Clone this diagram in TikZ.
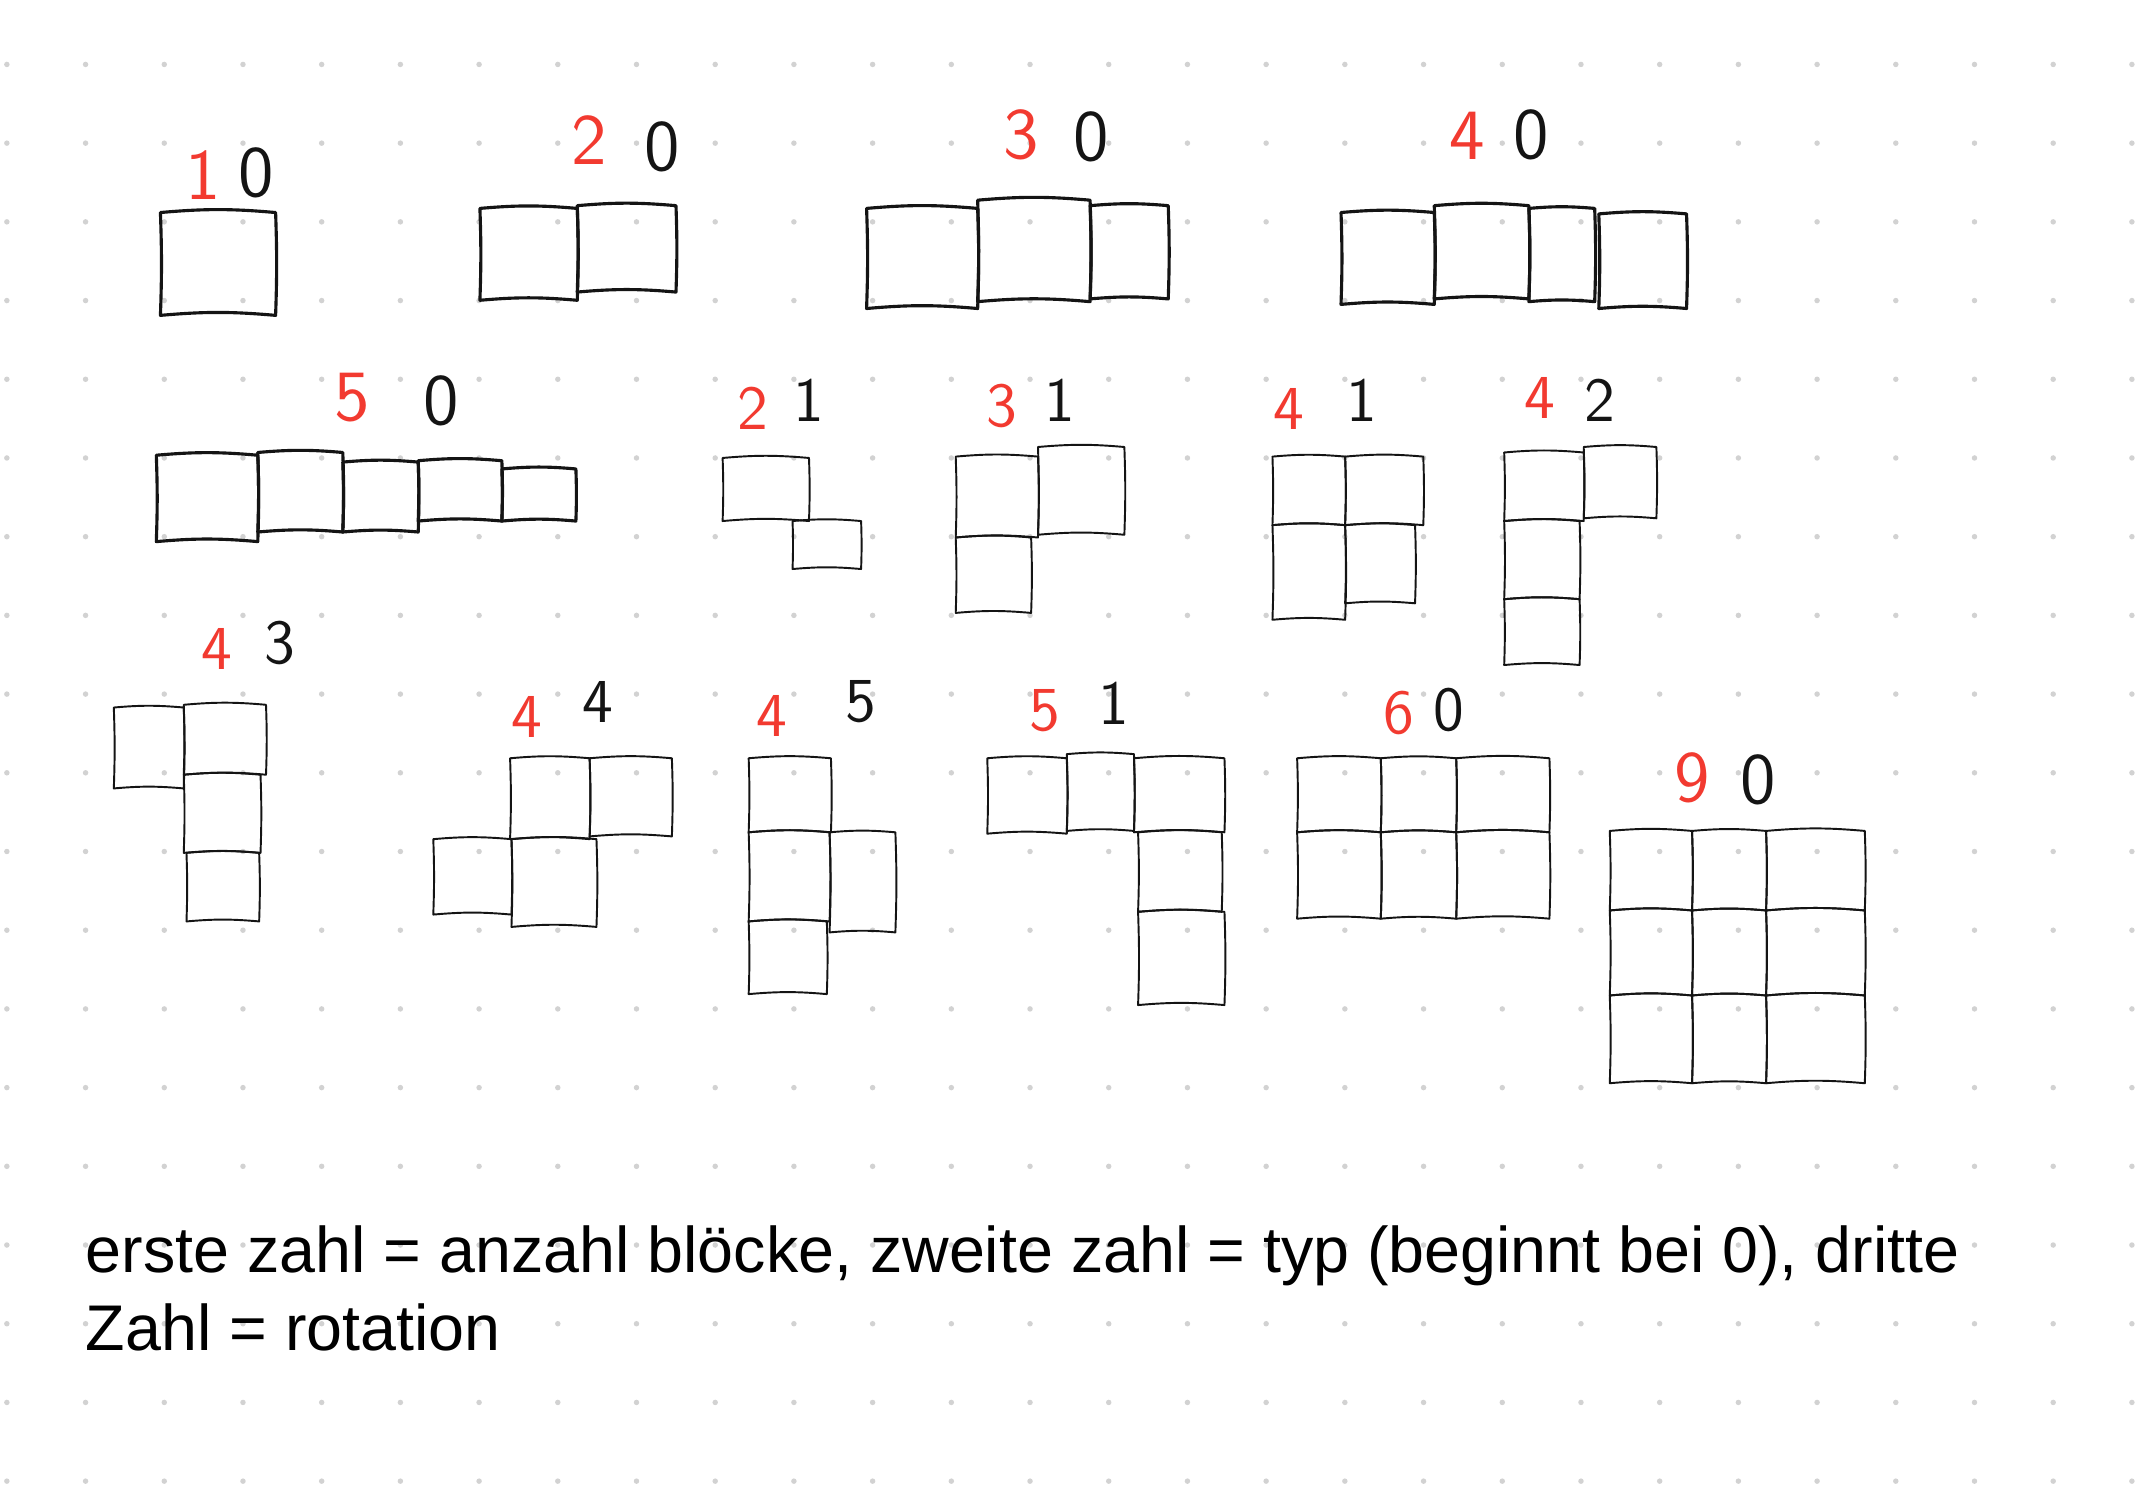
\documentclass[tikz,border=0pt]{standalone}
\usepackage{fontspec}
\setmainfont{Liberation Sans}
\definecolor{pen}{HTML}{141414}
\definecolor{redpen}{HTML}{F23A30}
\definecolor{dotgray}{HTML}{D2D2D2}
% one hand-drawn block
\newcommand\sqcell[5]{%
  \draw[#1] (#2,#3) to[bend left=5] (#4,#3) to[bend left=2] (#4,#5)
    to[bend right=5] (#2,#5) to[bend right=2] cycle;}

\begin{document}
\begin{tikzpicture}[
  x=0.1mm,y=-0.1mm,
  dotg/.style={fill=dotgray,draw=none},
  blk/.style={draw=pen,line width=.65pt,line join=round},
  thinblk/.style={blk,line width=.4pt},
  nr/.style={text=redpen,font=\sffamily\fontsize{15}{15}\selectfont,inner sep=0pt},
  ty/.style={text=pen,font=\sffamily\fontsize{15}{15}\selectfont,inner sep=0pt},
  nrs/.style={nr,font=\sffamily\fontsize{13}{13}\selectfont},
  tys/.style={ty,font=\sffamily\fontsize{13}{13}\selectfont},
  note/.style={anchor=base west,inner sep=0pt,text=black,
    font=\fontsize{13.4}{16.2}\selectfont}
]
\fill[white] (0,0) rectangle (1568,1090);
\useasboundingbox (0,0) rectangle (1568,1090);

% dotted paper
\foreach \i in {0,...,27}
  \foreach \j in {0,...,18}
    \fill[dotg] ({5+57.4*\i},{47+57.4*\j}) circle (0.2mm);

% first row: straight pieces
\node[nr] (a1) at (148,128) {1};
\node[ty] (a2) at (187,126) {0};
\sqcell{blk}{117}{155}{201}{230}

\node[nr] (b1) at (430,102) {2};
\node[ty] (b2) at (483,107) {0};
\foreach \xa/\ya/\xb/\yb in {350/152/421/219,421/150/493/213}
  {\sqcell{blk}{\xa}{\ya}{\xb}{\yb}}

\node[nr] (c1) at (745,98) {3};
\node[ty] (c2) at (796,100) {0};
\foreach \xa/\ya/\xb/\yb in {632/152/713/225,713/146/795/220,795/150/852/218}
  {\sqcell{blk}{\xa}{\ya}{\xb}{\yb}}

\node[nr] (d1) at (1070,99) {4};
\node[ty] (d2) at (1117,98) {0};
\foreach \xa/\ya/\xb/\yb in {978/155/1046/222,1046/150/1115/218,1115/152/1163/220,1166/156/1230/225}
  {\sqcell{blk}{\xa}{\ya}{\xb}{\yb}}

% second row
\node[nr] (e1) at (257,290) {5};
\node[ty] (e2) at (322,292) {0};
\foreach \xa/\ya/\xb/\yb in {114/332/188/395,188/330/250/388,250/337/305/388,305/336/366/380,366/342/420/380}
  {\sqcell{blk}{\xa}{\ya}{\xb}{\yb}}

\node[nrs] (f1) at (549,298) {2};
\node[tys] (f2) at (590,292) {1};
\foreach \xa/\ya/\xb/\yb in {527/334/590/380,578/380/628/415}
  {\sqcell{thinblk}{\xa}{\ya}{\xb}{\yb}}

\node[nrs] (g1) at (731,296) {3};
\node[tys] (g2) at (773,292) {1};
\foreach \xa/\ya/\xb/\yb in {697/333/757/392,757/326/820/390,697/392/752/447}
  {\sqcell{thinblk}{\xa}{\ya}{\xb}{\yb}}

\node[nrs] (h1) at (940,298) {4};
\node[tys] (h2) at (993,292) {1};
\foreach \xa/\ya/\xb/\yb in {928/333/981/383,981/333/1038/383,928/383/981/452,981/383/1032/440}
  {\sqcell{thinblk}{\xa}{\ya}{\xb}{\yb}}

\node[nrs] (i1) at (1123,290) {4};
\node[tys] (i2) at (1167,292) {2};
\foreach \xa/\ya/\xb/\yb in {1097/330/1155/380,1155/326/1208/378,1097/380/1152/437,1097/437/1152/485}
  {\sqcell{thinblk}{\xa}{\ya}{\xb}{\yb}}

% third row
\node[nrs] (j1) at (158,473) {4};
\node[tys] (j2) at (204,469) {3};
\foreach \xa/\ya/\xb/\yb in {83/516/134/575,134/514/194/565,134/565/190/622,136/622/189/672}
  {\sqcell{thinblk}{\xa}{\ya}{\xb}{\yb}}

\node[nrs] (k1) at (384,523) {4};
\node[tys] (k2) at (436,512) {4};
\foreach \xa/\ya/\xb/\yb in {372/553/430/612,430/553/490/610,316/612/373/667,373/612/435/676}
  {\sqcell{thinblk}{\xa}{\ya}{\xb}{\yb}}

\node[nrs] (l1) at (563,522) {4};
\node[tys] (l2) at (628,512) {5};
\foreach \xa/\ya/\xb/\yb in {546/553/606/607,546/607/605/672,605/607/653/680,546/672/603/725}
  {\sqcell{thinblk}{\xa}{\ya}{\xb}{\yb}}

\node[nrs] (m1) at (762,518) {5};
\node[tys] (m2) at (812,513) {1};
\foreach \xa/\ya/\xb/\yb in {720/553/778/608,778/550/827/606,827/553/893/607,830/607/891/665,830/665/893/733}
  {\sqcell{thinblk}{\xa}{\ya}{\xb}{\yb}}

\node[nrs] (n1) at (1020,520) {6};
\node[tys] (n2) at (1057,518) {0};
\foreach \xa/\xb in {946/1007,1007/1062,1062/1130}
  \foreach \ya/\yb in {553/607,607/670}
    {\sqcell{thinblk}{\xa}{\ya}{\xb}{\yb}}

\node[nr] (o1) at (1234,567) {9};
\node[ty] (o2) at (1282,569) {0};
\foreach \xa/\xb in {1174/1234,1234/1288,1288/1360}
  \foreach \ya/\yb in {606/664,664/726,726/790}
    {\sqcell{thinblk}{\xa}{\ya}{\xb}{\yb}}

% legend
\node[note] (note1) at (62,928) {erste zahl = anzahl blöcke, zweite zahl = typ (beginnt bei 0), dritte};
\node[note] (note2) at (62,985) {Zahl = rotation};
\end{tikzpicture}
\end{document}
